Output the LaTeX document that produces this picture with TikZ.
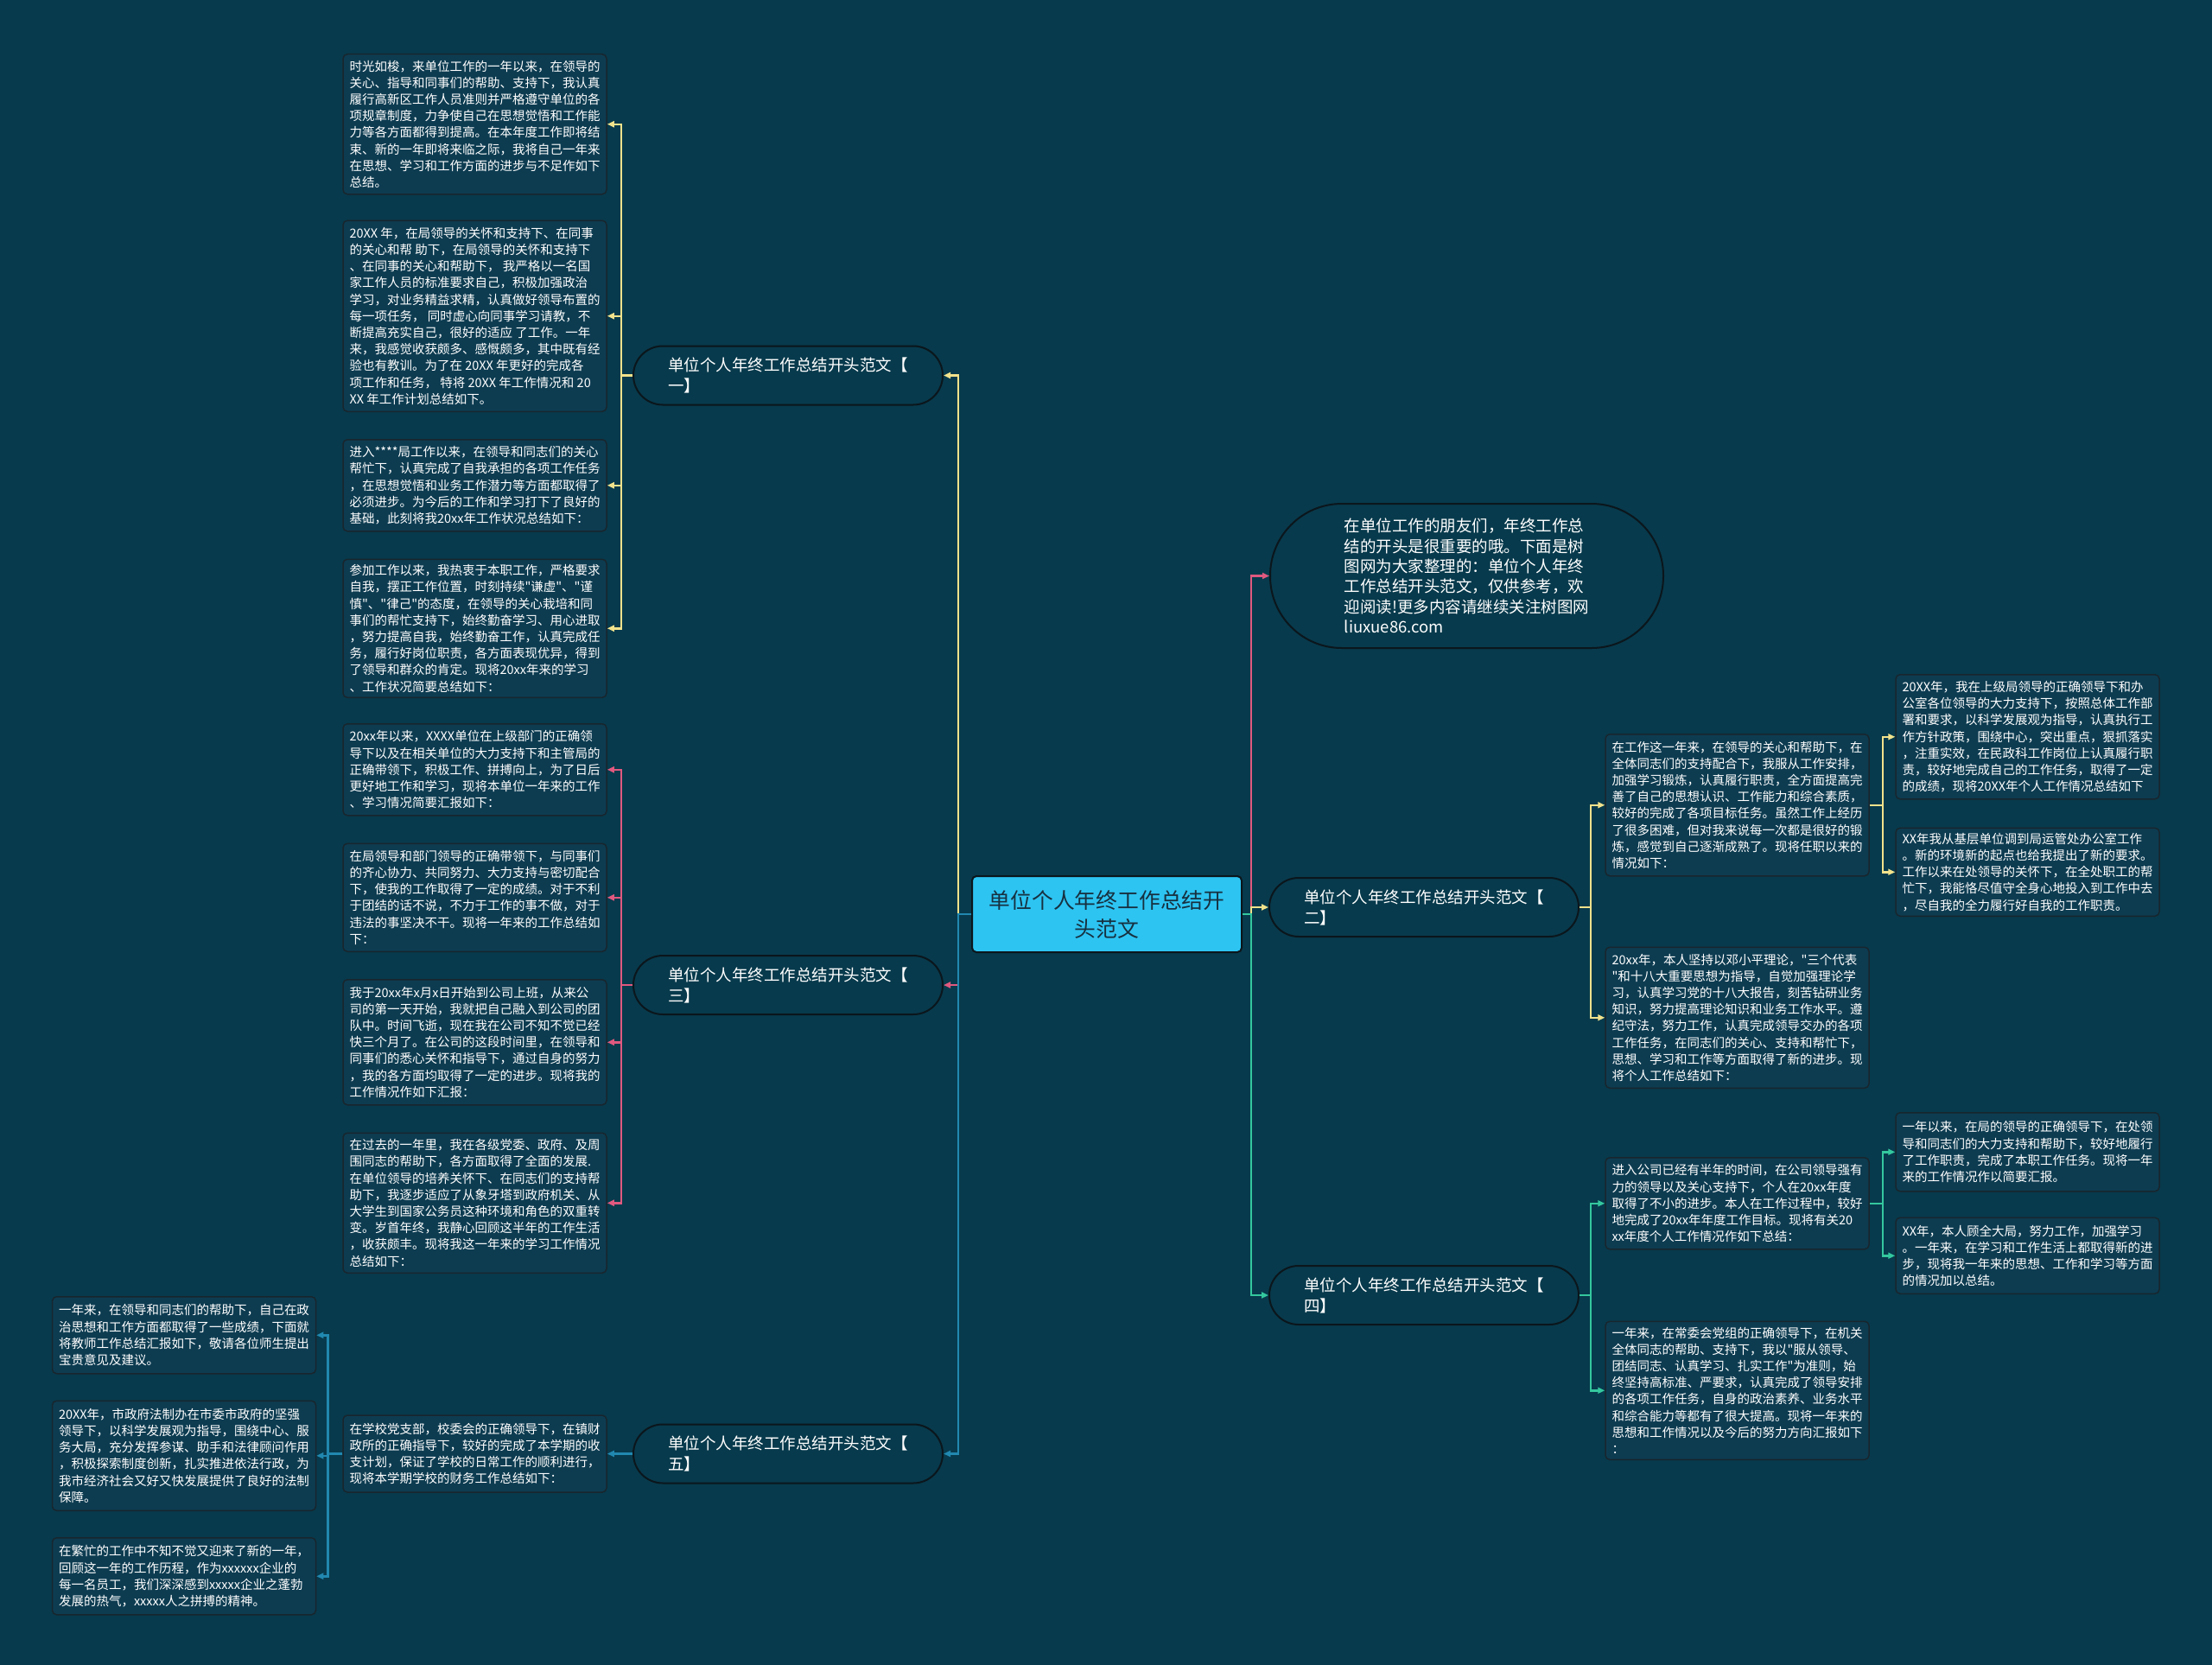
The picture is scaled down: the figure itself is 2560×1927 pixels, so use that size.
\documentclass[tikz,border=0pt]{standalone}
\usepackage{fontspec}
\setmainfont{Noto Sans CJK SC}[Ligatures=TeXOff]
\usepackage{xcolor}
\usepackage{tikz}
\usetikzlibrary{positioning,arrows.meta}
\definecolor{bgc}{HTML}{073A4C}
\definecolor{leaffill}{HTML}{0D3C51}
\definecolor{leafline}{HTML}{18262E}
\definecolor{capline}{HTML}{0B161C}
\definecolor{rootc}{HTML}{2DC4F2}
\definecolor{roottext}{HTML}{17303F}
\definecolor{ylw}{HTML}{F2E28C}
\definecolor{pnk}{HTML}{E0597F}
\definecolor{blu}{HTML}{2188B0}
\definecolor{grn}{HTML}{34C79E}

\begin{document}
\begin{tikzpicture}[x=1pt,y=1pt,
  leaf/.style={draw=leafline, fill=leaffill, rounded corners=5pt, line width=1.5pt,
               text=white, align=left, minimum width=305pt, inner xsep=7pt, inner ysep=4pt,
               font=\fontsize{14.5}{19.2}\selectfont},
  branch/.style={draw=capline, fill=bgc, rounded corners=34pt, line width=2pt,
               text=white, align=left, minimum width=358pt, minimum height=68pt,
               inner ysep=0pt, font=\fontsize{18.5}{24}\selectfont},
  introbox/.style={branch, rounded corners=83pt, minimum width=455pt, minimum height=167pt,
               font=\fontsize{18.5}{23.3}\selectfont},
  rootbox/.style={draw=capline, fill=rootc, rounded corners=5pt, line width=2pt,
               text=roottext, align=center, minimum width=312pt, minimum height=88pt,
               font=\fontsize{24.8}{33}\selectfont},
  lnk/.style={draw=#1, line width=2.5pt, -{Triangle[length=8pt,width=7pt]}},
  node distance=31pt
]
\fill[bgc] (0,0) rectangle (2560,-1927);

% centre and main branches
\node[rootbox] (root) at (1281,-1058) {单位个人年终工作总结开\\头范文};
\node[introbox] (intro) at (1697.5,-666.5) {在单位工作的朋友们，年终工作总\\结的开头是很重要的哦。下面是树\\图网为大家整理的：单位个人年终\\工作总结开头范文，仅供参考，欢\\迎阅读!更多内容请继续关注树图网\\liuxue86.com};
\node[branch] (fw1) at (912,-434.5) {单位个人年终工作总结开头范文【\\一】};
\node[branch] (fw3) at (912,-1140) {单位个人年终工作总结开头范文【\\三】};
\node[branch] (fw5) at (912,-1682.5) {单位个人年终工作总结开头范文【\\五】};
\node[branch] (fw2) at (1648,-1050) {单位个人年终工作总结开头范文【\\二】};
\node[branch] (fw4) at (1648,-1499) {单位个人年终工作总结开头范文【\\四】};

% branch 1
\node[leaf,minimum height=162pt,anchor=north] (l1) at (549.5,-62) {时光如梭，来单位工作的一年以来，在领导的\\关心、指导和同事们的帮助、支持下，我认真\\履行高新区工作人员准则并严格遵守单位的各\\项规章制度，力争使自己在思想觉悟和工作能\\力等各方面都得到提高。在本年度工作即将结\\束、新的一年即将来临之际，我将自己一年来\\在思想、学习和工作方面的进步与不足作如下\\总结。};
\node[leaf,minimum height=221pt,below=29pt of l1] (l2) {20XX 年，在局领导的关怀和支持下、在同事\\的关心和帮 助下，在局领导的关怀和支持下\\、在同事的关心和帮助下， 我严格以一名国\\家工作人员的标准要求自己，积极加强政治\\学习，对业务精益求精，认真做好领导布置的\\每一项任务， 同时虚心向同事学习请教，不\\断提高充实自己，很好的适应 了工作。一年\\来，我感觉收获颇多、感慨颇多，其中既有经\\ 验也有教训。为了在 20XX 年更好的完成各\\项工作和任务， 特将 20XX 年工作情况和 20\\XX 年工作计划总结如下。};
\node[leaf,minimum height=106pt,below=of l2] (l3) {进入****局工作以来，在领导和同志们的关心\\帮忙下，认真完成了自我承担的各项工作任务\\，在思想觉悟和业务工作潜力等方面都取得了\\必须进步。为今后的工作和学习打下了良好的\\基础，此刻将我20xx年工作状况总结如下：};
\node[leaf,minimum height=160pt,below=of l3] (l4) {参加工作以来，我热衷于本职工作，严格要求\\自我，摆正工作位置，时刻持续"谦虚"、"谨\\慎"、"律己"的态度，在领导的关心栽培和同\\事们的帮忙支持下，始终勤奋学习、用心进取\\，努力提高自我，始终勤奋工作，认真完成任\\务，履行好岗位职责，各方面表现优异，得到\\了领导和群众的肯定。现将20xx年来的学习\\、工作状况简要总结如下：};

% branch 3
\node[leaf,minimum height=106pt,anchor=north] (l5) at (549.5,-837) {20xx年以来，XXXX单位在上级部门的正确领\\导下以及在相关单位的大力支持下和主管局的\\正确带领下，积极工作、拼搏向上，为了日后\\更好地工作和学习，现将本单位一年来的工作\\、学习情况简要汇报如下：};
\node[leaf,minimum height=125pt,below=of l5] (l6) {在局领导和部门领导的正确带领下，与同事们\\的齐心协力、共同努力、大力支持与密切配合\\下，使我的工作取得了一定的成绩。对于不利\\于团结的话不说，不力于工作的事不做，对于\\违法的事坚决不干。现将一年来的工作总结如\\下：};
\node[leaf,minimum height=145pt,below=of l6] (l7) {我于20xx年x月x日开始到公司上班，从来公\\司的第一天开始，我就把自己融入到公司的团\\队中。时间飞逝，现在我在公司不知不觉已经\\快三个月了。在公司的这段时间里，在领导和\\同事们的悉心关怀和指导下，通过自身的努力\\，我的各方面均取得了一定的进步。现将我的\\工作情况作如下汇报：};
\node[leaf,minimum height=162pt,below=of l7] (l8) {在过去的一年里，我在各级党委、政府、及周\\围同志的帮助下，各方面取得了全面的发展.\\在单位领导的培养关怀下、在同志们的支持帮\\助下，我逐步适应了从象牙塔到政府机关、从\\大学生到国家公务员这种环境和角色的双重转\\变。岁首年终，我静心回顾这半年的工作生活\\，收获颇丰。现将我这一年来的学习工作情况\\总结如下：};

% branch 5
\node[leaf,minimum height=89pt] (l9) at (549.5,-1682.5) {在学校党支部，校委会的正确领导下，在镇财\\政所的正确指导下，较好的完成了本学期的收\\支计划，保证了学校的日常工作的顺利进行，\\现将本学期学校的财务工作总结如下：};
\node[leaf,minimum height=89pt,anchor=north] (fl1) at (213,-1500) {一年来，在领导和同志们的帮助下，自己在政\\治思想和工作方面都取得了一些成绩，下面就\\将教师工作总结汇报如下，敬请各位师生提出\\宝贵意见及建议。};
\node[leaf,minimum height=127pt,below=30pt of fl1] (fl2) {20XX年，市政府法制办在市委市政府的坚强\\领导下，以科学发展观为指导，围绕中心、服\\务大局，充分发挥参谋、助手和法律顾问作用\\，积极探索制度创新，扎实推进依法行政，为\\我市经济社会又好又快发展提供了良好的法制\\保障。};
\node[leaf,minimum height=89pt,below=30pt of fl2] (fl3) {在繁忙的工作中不知不觉又迎来了新的一年，\\回顾这一年的工作历程，作为xxxxxx企业的\\每一名员工，我们深深感到xxxxx企业之蓬勃\\发展的热气，xxxxx人之拼搏的精神。};

% branch 2
\node[leaf,minimum height=164pt,anchor=north] (r1) at (2010.5,-849) {在工作这一年来，在领导的关心和帮助下，在\\全体同志们的支持配合下，我服从工作安排，\\加强学习锻炼，认真履行职责，全方面提高完\\善了自己的思想认识、工作能力和综合素质，\\较好的完成了各项目标任务。虽然工作上经历\\了很多困难，但对我来说每一次都是很好的锻\\炼，感觉到自己逐渐成熟了。现将任职以来的\\情况如下：};
\node[leaf,minimum height=163pt,below=81pt of r1] (r2) {20xx年，本人坚持以邓小平理论，"三个代表\\"和十八大重要思想为指导，自觉加强理论学\\习，认真学习党的十八大报告，刻苦钻研业务\\知识，努力提高理论知识和业务工作水平。遵\\纪守法，努力工作，认真完成领导交办的各项\\工作任务，在同志们的关心、支持和帮忙下，\\思想、学习和工作等方面取得了新的进步。现\\将个人工作总结如下：};
\node[leaf,minimum height=144pt,anchor=north] (fr1) at (2346.5,-780) {20XX年，我在上级局领导的正确领导下和办\\公室各位领导的大力支持下，按照总体工作部\\署和要求，以科学发展观为指导，认真执行工\\作方针政策，围绕中心，突出重点，狠抓落实\\，注重实效，在民政科工作岗位上认真履行职\\责，较好地完成自己的工作任务，取得了一定\\的成绩，现将20XX年个人工作情况总结如下};
\node[leaf,minimum height=102pt,below=32pt of fr1] (fr2) {XX年我从基层单位调到局运管处办公室工作\\。新的环境新的起点也给我提出了新的要求。\\工作以来在处领导的关怀下，在全处职工的帮\\忙下，我能恪尽值守全身心地投入到工作中去\\，尽自我的全力履行好自我的工作职责。};

% branch 4
\node[leaf,minimum height=106pt,anchor=north] (r3) at (2010.5,-1339) {进入公司已经有半年的时间，在公司领导强有\\力的领导以及关心支持下，个人在20xx年度\\取得了不小的进步。本人在工作过程中，较好\\地完成了20xx年年度工作目标。现将有关20\\xx年度个人工作情况作如下总结：};
\node[leaf,minimum height=160pt,below=82pt of r3] (r4) {一年来，在常委会党组的正确领导下，在机关\\全体同志的帮助、支持下，我以"服从领导、\\团结同志、认真学习、扎实工作"为准则，始\\终坚持高标准、严要求，认真完成了领导安排\\的各项工作任务，自身的政治素养、业务水平\\和综合能力等都有了很大提高。现将一年来的\\思想和工作情况以及今后的努力方向汇报如下\\：};
\node[leaf,minimum height=91pt,anchor=north] (fr3) at (2346.5,-1287) {一年以来，在局的领导的正确领导下，在处领\\导和同志们的大力支持和帮助下，较好地履行\\了工作职责，完成了本职工作任务。现将一年\\来的工作情况作以简要汇报。};
\node[leaf,minimum height=88pt,below=29pt of fr3] (fr4) {XX年，本人顾全大局，努力工作，加强学习\\。一年来，在学习和工作生活上都取得新的进\\步，现将我一年来的思想、工作和学习等方面\\的情况加以总结。};

% connectors
\draw[lnk=ylw](root.west)--++(-15,0)|-(fw1.east);
\draw[lnk=pnk](root.west)--++(-15,0)|-(fw3.east);
\draw[lnk=blu](root.west)--++(-15,0)|-(fw5.east);
\draw[lnk=pnk](root.east)--++(10,0)|-(intro.west);
\draw[lnk=ylw](root.east)--++(10,0)|-(fw2.west);
\draw[lnk=grn](root.east)--++(10,0)|-(fw4.west);
\foreach \t in {l1,l2,l3,l4} \draw[lnk=ylw](fw1.west)--++(-13,0)|-(\t.east);
\foreach \t in {l5,l6,l7,l8} \draw[lnk=pnk](fw3.west)--++(-13,0)|-(\t.east);
\draw[lnk=blu](fw5.west)--(l9.east);
\foreach \t in {fl1,fl2,fl3} \draw[lnk=blu](l9.west)--++(-17,0)|-(\t.east);
\foreach \t in {r1,r2} \draw[lnk=ylw](fw2.east)--++(13,0)|-(\t.west);
\foreach \t in {fr1,fr2} \draw[lnk=ylw](r1.east)--++(15,0)|-(\t.west);
\foreach \t in {r3,r4} \draw[lnk=grn](fw4.east)--++(13,0)|-(\t.west);
\foreach \t in {fr3,fr4} \draw[lnk=grn](r3.east)--++(15,0)|-(\t.west);
\end{tikzpicture}
\end{document}
